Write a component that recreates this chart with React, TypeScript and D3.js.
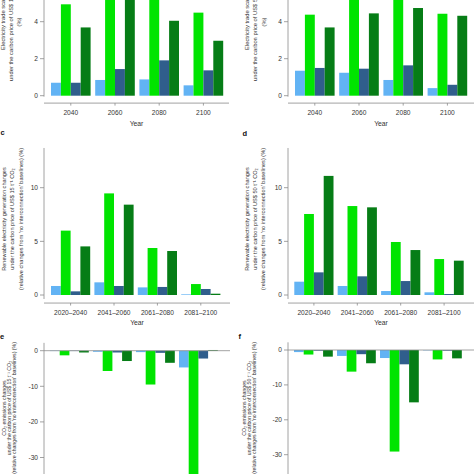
import React from "react";
import * as d3 from "d3";

// ---------- data ----------
const yearsTop = ["2040", "2060", "2080", "2100"];
const periods = ["2020–2040", "2041–2060", "2061–2080", "2081–2100"];
const seriesKeys = ["lightBlue", "green", "darkBlue", "darkGreen"];
const seriesColors = ["#62b3f4", "#00e400", "#305e8c", "#067d16"];

// panel a (US$15, trade scale)
const aLightBlue = [0.7, 0.85, 0.88, 0.56];
const aGreen = [4.94, 6.2, 6.4, 4.49];
const aDarkBlue = [0.7, 1.44, 1.91, 1.37];
const aDarkGreen = [3.69, 5.6, 4.05, 2.97];
// panel b (US$50, trade scale)
const bLightBlue = [1.35, 1.24, 0.85, 0.41];
const bGreen = [4.38, 5.9, 6.1, 4.43];
const bDarkBlue = [1.5, 1.46, 1.64, 0.59];
const bDarkGreen = [3.69, 4.45, 4.74, 4.32];
// panel c (US$15, renewable generation)
const cLightBlue = [0.84, 1.18, 0.71, 0.06];
const cGreen = [6.0, 9.47, 4.38, 1.02];
const cDarkBlue = [0.34, 0.84, 0.75, 0.56];
const cDarkGreen = [4.53, 8.42, 4.1, 0.12];
// panel d (US$50, renewable generation)
const dLightBlue = [1.24, 0.84, 0.37, 0.25];
const dGreen = [7.55, 8.29, 4.94, 3.35];
const dDarkBlue = [2.11, 1.74, 1.3, 0.09];
const dDarkGreen = [11.1, 8.17, 4.19, 3.2];
// panel e (US$15, CO2 emissions)
const eLightBlue = [-0.1, -0.3, -0.4, -4.7];
const eGreen = [-1.3, -5.7, -9.5, -38];
const eDarkBlue = [-0.1, -0.5, -0.6, -2.2];
const eDarkGreen = [-0.5, -2.9, -3.4, 0.2];
// panel f (US$50, CO2 emissions)
const fLightBlue = [-0.6, -1.7, -2.3, -0.1];
const fGreen = [-1.3, -6.2, -29.1, -2.7];
const fDarkBlue = [-0.2, -1.2, -4.1, -0.2];
const fDarkGreen = [-1.9, -3.8, -15.0, -2.4];

const ticksTop = [0, 2, 4, 6];
const ticksMid = [0, 5, 10];
const ticksBottom = [0, -10, -20, -30];

const labelsA = ["Electricity trade scale changes", "under the carbon price of US$ 15 t⁻¹ CO₂", "(%)"];
const labelsB = ["Electricity trade scale changes", "under the carbon price of US$ 50 t⁻¹ CO₂", "(%)"];
const labelsC = [
  "Renewable electricity generation changes",
  "under the carbon price of US$ 15 t⁻¹ CO₂",
  "(relative changes from 'no interconnection' baselines) (%)",
];
const labelsD = [
  "Renewable electricity generation changes",
  "under the carbon price of US$ 50 t⁻¹ CO₂",
  "(relative changes from 'no interconnection' baselines) (%)",
];
const labelsE = [
  "CO₂ emissions changes",
  "under the carbon price of US$ 15 t⁻¹ CO₂",
  "(relative changes from 'no interconnection' baselines) (%)",
];
const labelsF = [
  "CO₂ emissions changes",
  "under the carbon price of US$ 50 t⁻¹ CO₂",
  "(relative changes from 'no interconnection' baselines) (%)",
];

const FONT = "'Liberation Sans', Arial, Helvetica, sans-serif";
const AXIS = "#8a8a8a";
const TEXT = "#333";

type LabelSpec = { text: string; x: number; y: number; anchor: string };

type PanelProps = {
  letter?: string;
  letterX?: number;
  letterY?: number;
  cats: string[];
  series: number[][];
  axisX: number; // x of y-axis line
  xStart: number; // first bar left
  step: number;
  bw: number;
  xAxisEnd: number;
  y0: number; // pixel of value 0
  ppu: number; // pixels per unit
  ticks: number[];
  yAxisLo: number;
  yAxisHi: number;
  xAxisVal?: number; // value where the x-axis is drawn
  zeroLine?: boolean;
  labels: LabelSpec[];
  labelSize: number;
  yearY?: number;
};

function Panel(p: PanelProps) {
  const n = p.cats.length;
  const pi = 1 - p.bw / p.step;
  const po = 0.1;
  const r0 = p.xStart - p.step * po;
  const r1 = r0 + p.step * (n - pi + 2 * po);
  const x = d3.scaleBand<string>().domain(p.cats).range([r0, r1]).paddingInner(pi).paddingOuter(po);
  const xs = d3.scaleBand<string>().domain(seriesKeys).range([0, x.bandwidth()]).padding(0);
  const lo = -60, hi = 20;
  const y = d3.scaleLinear().domain([lo, hi]).range([p.y0 - lo * p.ppu, p.y0 - hi * p.ppu]);

  const xAxisY = p.xAxisVal !== undefined ? y(p.xAxisVal) : null;

  return (
    <g>
      {p.letter && (
        <text x={p.letterX} y={p.letterY} fontFamily={FONT} fontWeight="bold" fontSize={7.5} fill="#111">
          {p.letter}
        </text>
      )}
      {/* bars */}
      {p.cats.map((c, i) => (
        <g key={c} transform={`translate(${x(c)},0)`}>
          {seriesKeys.map((k, j) => {
            const v = p.series[j][i];
            const top = Math.min(y(v), y(0));
            const h = Math.abs(y(v) - y(0));
            return <rect key={k} x={xs(k)} y={top} width={xs.bandwidth()} height={h} fill={seriesColors[j]} />;
          })}
        </g>
      ))}
      {p.zeroLine && (
        <line x1={p.axisX} x2={p.xAxisEnd} y1={y(0)} y2={y(0)} stroke={AXIS} strokeWidth={0.8} />
      )}
      {/* y axis */}
      <line x1={p.axisX} x2={p.axisX} y1={y(p.yAxisLo)} y2={y(p.yAxisHi)} stroke={AXIS} strokeWidth={0.8} />
      {p.ticks.map((t) => (
        <g key={t}>
          <line x1={p.axisX - 4} x2={p.axisX} y1={y(t)} y2={y(t)} stroke={AXIS} strokeWidth={0.8} />
          <text
            x={p.axisX - 6}
            y={y(t)}
            dy="0.35em"
            textAnchor="end"
            fontFamily={FONT}
            fontSize={6.6}
            fill={TEXT}
          >
            {t < 0 ? `-${Math.abs(t)}` : t}
          </text>
        </g>
      ))}
      {/* x axis */}
      {xAxisY !== null && (
        <g>
          <line x1={p.axisX} x2={p.xAxisEnd} y1={xAxisY} y2={xAxisY} stroke={AXIS} strokeWidth={0.8} />
          {p.cats.map((c) => {
            const cx = (x(c) as number) + x.bandwidth() / 2;
            return (
              <g key={c}>
                <line x1={cx} x2={cx} y1={xAxisY} y2={xAxisY + 2.5} stroke={AXIS} strokeWidth={0.8} />
                <text x={cx} y={xAxisY + 9.5} dy="0.35em" textAnchor="middle" fontFamily={FONT} fontSize={6.6} fill={TEXT}>
                  {c}
                </text>
              </g>
            );
          })}
          <text
            x={(p.axisX + p.xAxisEnd) / 2}
            y={p.yearY}
            dy="0.35em"
            textAnchor="middle"
            fontFamily={FONT}
            fontSize={6.8}
            fill={TEXT}
          >
            Year
          </text>
        </g>
      )}
      {/* y label */}
      {p.labels.map((l, i) => (
        <text
          key={i}
          transform={`translate(${l.x},${l.y}) rotate(-90)`}
          dy="0.35em"
          textAnchor={l.anchor}
          fontFamily={FONT}
          fontSize={p.labelSize}
          fill={TEXT}
        >
          {l.text}
        </text>
      ))}
    </g>
  );
}

export default function App() {
  const topRow = { xAxisVal: -0.4, y0: 95.7, ppu: 18.5, ticks: ticksTop, yAxisLo: -0.05, yAxisHi: 6, step: 44.2, bw: 39.6 };
  const midRow = { xAxisVal: -0.75, y0: 295, ppu: 10.73, ticks: ticksMid, yAxisLo: -0.37, yAxisHi: 13.7, step: 43.4, bw: 39.2 };
  return (
    <svg width={474} height={474} style={{ position: "absolute", left: 0, top: 0, background: "#fff" }}>
      <Panel
        {...topRow}
        cats={yearsTop}
        series={[aLightBlue, aGreen, aDarkBlue, aDarkGreen]}
        axisX={44}
        xStart={51}
        xAxisEnd={229}
        yearY={124}
        labels={[
          { text: labelsA[0], x: 3.3, y: 50, anchor: "start" },
          { text: labelsA[1], x: 10.5, y: 81, anchor: "start" },
          { text: labelsA[2], x: 18.5, y: 22, anchor: "middle" },
        ]}
        labelSize={5.8}
      />
      <Panel
        {...topRow}
        cats={yearsTop}
        series={[bLightBlue, bGreen, bDarkBlue, bDarkGreen]}
        axisX={288}
        xStart={295}
        xAxisEnd={474}
        yearY={124}
        labels={[
          { text: labelsB[0], x: 247, y: 50, anchor: "start" },
          { text: labelsB[1], x: 254.5, y: 81, anchor: "start" },
          { text: labelsB[2], x: 263.5, y: 22, anchor: "middle" },
        ]}
        labelSize={5.8}
      />
      <Panel
        {...midRow}
        letter="c"
        letterX={0.5}
        letterY={135}
        cats={periods}
        series={[cLightBlue, cGreen, cDarkBlue, cDarkGreen]}
        axisX={44}
        xStart={51}
        xAxisEnd={230}
        yearY={322.7}
        labels={[
          { text: labelsC[0], x: 4, y: 219, anchor: "middle" },
          { text: labelsC[1], x: 12.5, y: 219, anchor: "middle" },
          { text: labelsC[2], x: 21, y: 219, anchor: "middle" },
        ]}
        labelSize={5.6}
      />
      <Panel
        {...midRow}
        letter="d"
        letterX={242.5}
        letterY={136}
        cats={periods}
        series={[dLightBlue, dGreen, dDarkBlue, dDarkGreen]}
        axisX={288}
        xStart={294.3}
        xAxisEnd={474}
        yearY={322.7}
        labels={[
          { text: labelsD[0], x: 247, y: 219, anchor: "middle" },
          { text: labelsD[1], x: 255, y: 219, anchor: "middle" },
          { text: labelsD[2], x: 263.5, y: 219, anchor: "middle" },
        ]}
        labelSize={5.6}
      />
      <Panel
        letter="e"
        letterX={0}
        letterY={339}
        cats={periods}
        series={[eLightBlue, eGreen, eDarkBlue, eDarkGreen]}
        axisX={44}
        xStart={50}
        step={43}
        bw={38.8}
        xAxisEnd={230}
        y0={350.7}
        ppu={3.56}
        ticks={ticksBottom}
        yAxisLo={-45}
        yAxisHi={2.2}
        zeroLine
        labels={[
          { text: labelsE[0], x: 4, y: 408, anchor: "middle" },
          { text: labelsE[1], x: 9.5, y: 408, anchor: "middle" },
          { text: labelsE[2], x: 14.5, y: 408, anchor: "middle" },
        ]}
        labelSize={5.2}
      />
      <Panel
        letter="f"
        letterX={238.5}
        letterY={339}
        cats={periods}
        series={[fLightBlue, fGreen, fDarkBlue, fDarkGreen]}
        axisX={288}
        xStart={294}
        step={43}
        bw={38.8}
        xAxisEnd={474}
        y0={350}
        ppu={3.49}
        ticks={ticksBottom}
        yAxisLo={-45}
        yAxisHi={2.2}
        zeroLine
        labels={[
          { text: labelsF[0], x: 244, y: 408, anchor: "middle" },
          { text: labelsF[1], x: 249, y: 408, anchor: "middle" },
          { text: labelsF[2], x: 254, y: 408, anchor: "middle" },
        ]}
        labelSize={5.2}
      />
    </svg>
  );
}
